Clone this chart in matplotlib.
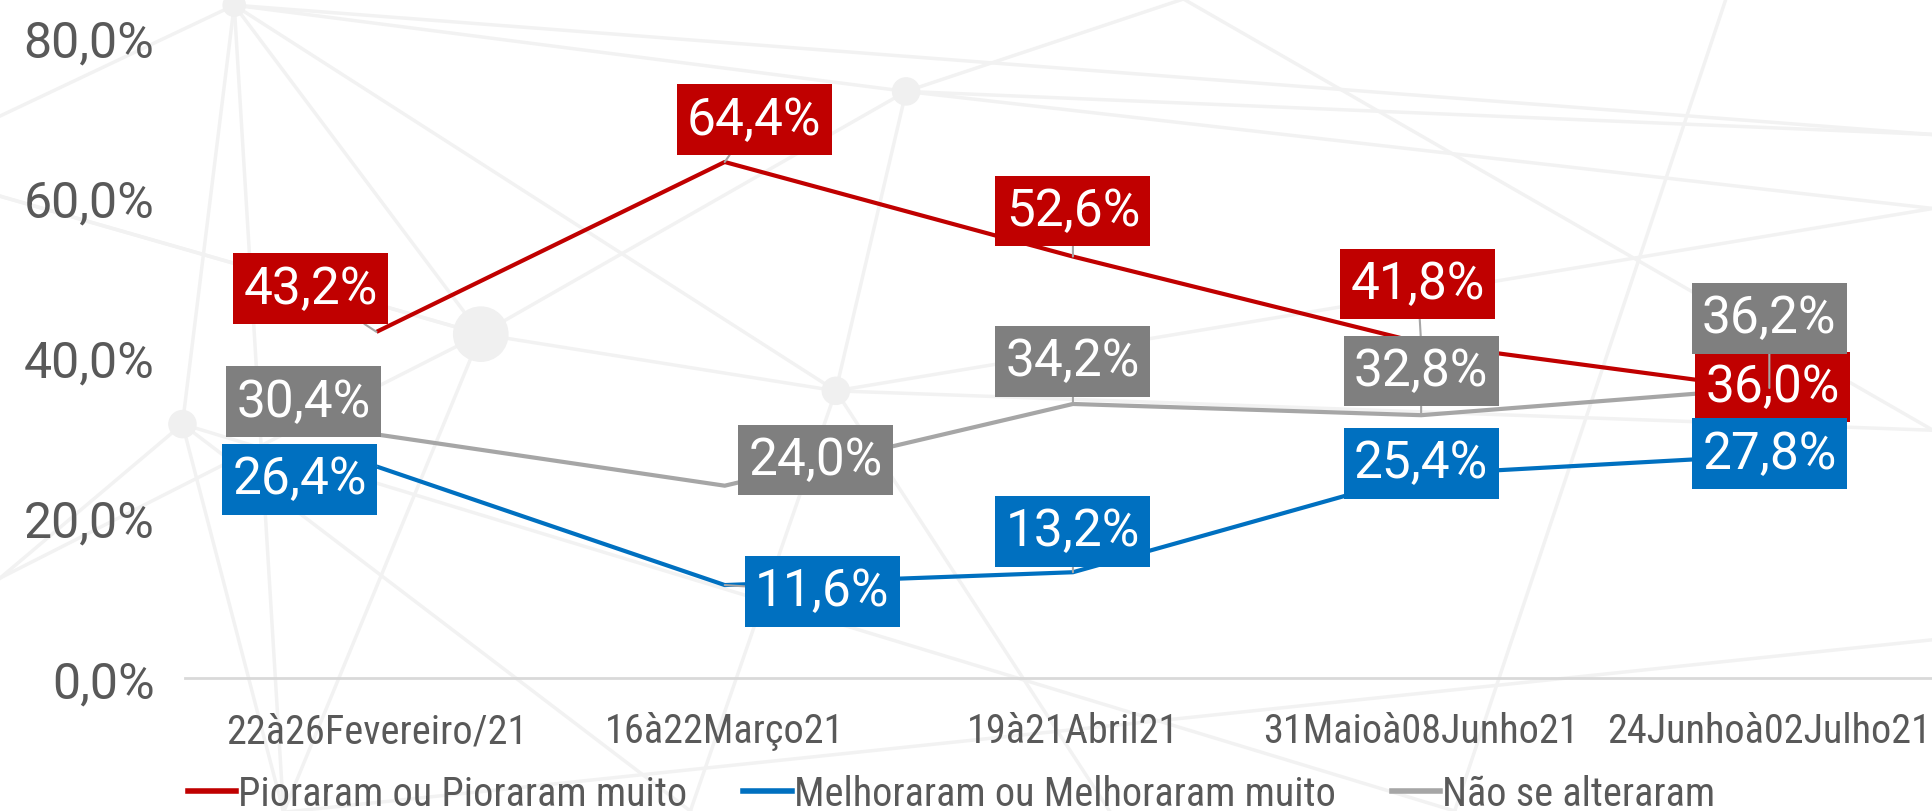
import matplotlib.pyplot as plt
from matplotlib import font_manager
from matplotlib.lines import Line2D

periodos = ['22à26Fevereiro/21', '16à22Março21', '19à21Abril21',
            '31Maioà08Junho21', '24Junhoà02Julho21']
pioraram = [43.2, 64.4, 52.6, 41.8, 36.0]
melhoraram = [26.4, 11.6, 13.2, 25.4, 27.8]
inalterado = [30.4, 24.0, 34.2, 32.8, 36.2]
nomes = ['Pioraram ou Pioraram muito', 'Melhoraram ou Melhoraram muito',
         'Não se alteraram']
yticks = [0, 20, 40, 60, 80]

# label positions (x offset in categories, y in %)
pos_red = [(-0.19, 48.6), (0.085, 69.7), (0.0, 58.3), (-0.01, 49.2), (0.01, 36.3)]
pos_blue = [(-0.22, 24.8), (0.28, 10.8), (0.0, 18.3), (0.0, 26.8), (0.0, 28.0)]
pos_gray = [(-0.21, 34.5), (0.26, 27.2), (0.0, 39.5), (0.0, 38.3), (0.0, 44.9)]

RED, BLUE, GRAY, GRAYBOX = '#C00000', '#0070C0', '#A6A6A6', '#7F7F7F'

installed = {f.name for f in font_manager.fontManager.ttflist}
narrow = next((f for f in ['Liberation Sans Narrow', 'DejaVu Sans Condensed', 'Roboto Condensed']
               if f in installed), 'DejaVu Sans')
light = 'Roboto' if 'Roboto' in installed else 'DejaVu Sans'

W, H = 1933, 812
fig = plt.figure(figsize=(W / 100, H / 100), dpi=100)

# faint network in the background
bg = fig.add_axes([0, 0, 1, 1], zorder=-1)
bg.set_xlim(0, 1568)
bg.set_ylim(659, 0)
bg.axis('off')
nodes = {'a': (190, 5), 'b': (735, 75), 'c': (390, 272), 'd': (148, 345),
         'e': (678, 318), 'f': (230, 660), 'g': (0, 95), 'h': (0, 160),
         'i': (1568, 110), 'j': (1568, 170), 'k': (960, 0), 'l': (1568, 350),
         'm': (1180, 659), 'n': (0, 470), 'o': (560, 659), 'p': (1400, 0),
         'q': (1568, 520), 'r': (900, 659)}
edges = ['ag', 'ac', 'ab', 'af', 'ad', 'ae', 'ai', 'bk', 'bj', 'be', 'ch', 'cb', 'ce',
         'cf', 'dn', 'df', 'do', 'eo', 'er', 'ej', 'el', 'hc', 'bi', 'pm', 'kl', 'fq',
         'dm', 'nc']
for a, b in edges:
    (x1, y1), (x2, y2) = nodes[a], nodes[b]
    bg.plot([x1, x2], [y1, y2], color='#F2F2F2', lw=2.5, zorder=0)
for key, r in [('a', 9), ('b', 11), ('c', 22), ('d', 11), ('e', 11)]:
    bg.add_patch(plt.Circle(nodes[key], r, color='#F0F0F0', zorder=1))

ax = fig.add_axes([185 / W, 133 / H, (1933 - 185) / W, (679 - 38) / H])
ax.patch.set_alpha(0)
x = list(range(len(periodos)))

series = [(pioraram, RED, RED, pos_red), (melhoraram, BLUE, BLUE, pos_blue),
          (inalterado, GRAY, GRAYBOX, pos_gray)]
for vals, lc, bc, pos in series:
    ax.plot(x, vals, color=lc, lw=3, zorder=3, solid_capstyle='butt')
for vals, lc, bc, pos in series:
    for xi, v, (dx, ly) in zip(x, vals, pos):
        ax.annotate(f'{v:.1f}%'.replace('.', ','), xy=(xi, v), xytext=(xi + dx, ly),
                    ha='center', va='center', color='white', fontsize=37,
                    family=light, zorder=5, annotation_clip=False,
                    bbox=dict(boxstyle='square,pad=0.2', fc=bc, ec='none'),
                    arrowprops=dict(arrowstyle='-', color=GRAY, lw=1.5,
                                    shrinkA=0, shrinkB=0))

ax.set_xlim(-0.55, 4.47)
ax.set_ylim(0, 80)
ax.set_yticks(yticks)
ax.set_yticklabels([f'{t:.1f}%'.replace('.', ',') for t in yticks],
                   fontsize=36, color='#595959', family=light)
ax.set_xticks(x)
ax.set_xticklabels(periodos, fontsize=29, color='#595959', family=narrow)
ax.tick_params(length=0)
ax.tick_params(axis='y', pad=22)
ax.tick_params(axis='x', pad=24)
for s in ['top', 'right', 'left']:
    ax.spines[s].set_visible(False)
ax.spines['bottom'].set_color('#D9D9D9')
ax.spines['bottom'].set_linewidth(2)

handles = [Line2D([], [], color=c, lw=4) for c in [RED, BLUE, GRAY]]
fig.legend(handles, nomes, loc='center left', bbox_to_anchor=(0.097, 0.022), ncol=3,
           frameon=False, prop={'family': narrow, 'size': 29}, labelcolor='#595959',
           handlelength=1.2, handletextpad=0.05, columnspacing=1.4,
           borderaxespad=0, borderpad=0)

fig.savefig('out.png', dpi=100)
